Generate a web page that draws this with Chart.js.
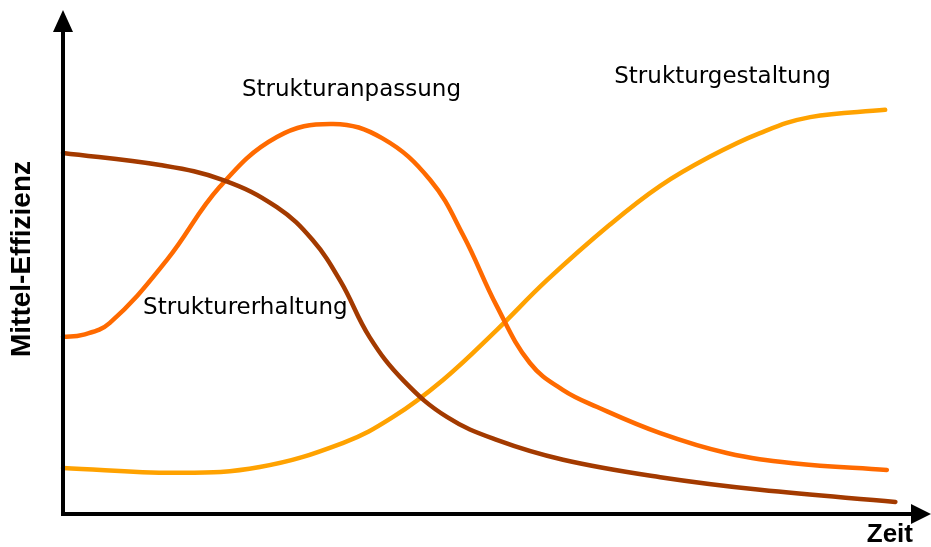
<!DOCTYPE html>
<html>
<head>
<meta charset="utf-8">
<script src="https://cdn.jsdelivr.net/npm/chart.js@4"></script>
<style>
  html, body { margin: 0; padding: 0; background: #fff; }
  #wrap { width: 931px; height: 547px; }
</style>
</head>
<body>
<div id="wrap"><canvas id="chart"></canvas></div>
<script>
// curve points (x: Zeit 0..100, y: Effizienz 0..100)
const erhaltungX = [0, 11.4, 18.8, 25.1, 29.3, 32.6, 36.0, 40.0, 45.1, 50.9, 58.7, 70.1, 81.8, 97.7];
const erhaltungY = [74.6, 72.1, 69.0, 63.4, 56.6, 48.0, 36.5, 27.5, 20.0, 15.3, 11.2, 7.6, 5.0, 2.5];

const anpassungX = [0, 2.3, 5.5, 12.2, 18.4, 25.1, 31.7, 37.5, 43.1, 47.0, 50.9, 54.8, 58.7, 62.7, 70.1, 77.9, 85.7, 96.7];
const anpassungY = [36.6, 37.0, 39.5, 52.5, 67.6, 77.9, 80.6, 77.6, 69.0, 57.5, 43.0, 31.2, 25.6, 22.1, 16.7, 12.6, 10.5, 9.1];

const gestaltungX = [0, 13.4, 23.1, 32.9, 38.7, 44.6, 50.9, 56.8, 64.2, 70.1, 75.9, 81.8, 87.7, 96.5];
const gestaltungY = [9.5, 8.5, 9.7, 14.7, 20.0, 27.7, 38.0, 48.3, 59.8, 67.8, 73.8, 78.7, 82.0, 83.5];

const seriesNames = ['Strukturerhaltung', 'Strukturanpassung', 'Strukturgestaltung'];
const seriesColors = ['#a33a00', '#ff6a00', '#ffa200'];
const axisTitles = ['Zeit', 'Mittel-Effizienz'];

const toPoints = (xs, ys) => xs.map((x, i) => ({ x, y: ys[i] }));

// where each curve name sits (data units, left edge / middle)
const labelSpots = [
  { text: seriesNames[0], x: 9.4, y: 42.6 },
  { text: seriesNames[1], x: 21.0, y: 87.6 },
  { text: seriesNames[2], x: 64.7, y: 90.3 }
];

const axesPlugin = {
  id: 'arrowAxes',
  afterDraw(chart) {
    const { ctx, chartArea: a, scales } = chart;
    ctx.save();
    ctx.strokeStyle = '#000';
    ctx.fillStyle = '#000';
    ctx.lineWidth = 4;
    // y axis
    ctx.beginPath();
    ctx.moveTo(a.left, a.bottom + 2);
    ctx.lineTo(a.left, a.top);
    ctx.stroke();
    ctx.beginPath();
    ctx.moveTo(a.left - 10, a.top + 2);
    ctx.lineTo(a.left + 10, a.top + 2);
    ctx.lineTo(a.left, a.top - 20);
    ctx.closePath();
    ctx.fill();
    // x axis
    ctx.beginPath();
    ctx.moveTo(a.left - 2, a.bottom);
    ctx.lineTo(a.right, a.bottom);
    ctx.stroke();
    ctx.beginPath();
    ctx.moveTo(a.right - 4, a.bottom - 10);
    ctx.lineTo(a.right - 4, a.bottom + 10);
    ctx.lineTo(a.right + 16, a.bottom);
    ctx.closePath();
    ctx.fill();

    // axis titles
    ctx.font = 'bold 26px "Liberation Sans", Arial, sans-serif';
    ctx.textAlign = 'right';
    ctx.textBaseline = 'middle';
    ctx.fillText(axisTitles[0], a.right - 2, a.bottom + 21);
    ctx.save();
    ctx.font = 'bold 28px "Liberation Sans", Arial, sans-serif';
    ctx.translate(22, 259);
    ctx.rotate(-Math.PI / 2);
    ctx.textAlign = 'center';
    ctx.fillText(axisTitles[1], 0, 0);
    ctx.restore();

    // curve names
    ctx.font = '23px "DejaVu Sans", Verdana, sans-serif';
    ctx.textAlign = 'left';
    labelSpots.forEach(l => {
      ctx.fillText(l.text, scales.x.getPixelForValue(l.x), scales.y.getPixelForValue(l.y));
    });
    ctx.restore();
  }
};

new Chart(document.getElementById('chart'), {
  type: 'line',
  data: {
    datasets: [
      { label: seriesNames[0], data: toPoints(erhaltungX, erhaltungY), borderColor: seriesColors[0] },
      { label: seriesNames[1], data: toPoints(anpassungX, anpassungY), borderColor: seriesColors[1] },
      { label: seriesNames[2], data: toPoints(gestaltungX, gestaltungY), borderColor: seriesColors[2] }
    ].map(d => Object.assign(d, {
      borderWidth: 4.5,
      pointRadius: 0,
      fill: false,
      tension: 0.4,
      borderCapStyle: 'round',
      borderJoinStyle: 'round',
      clip: false
    }))
  },
  plugins: [axesPlugin],
  options: {
    responsive: true,
    maintainAspectRatio: false,
    animation: false,
    layout: { padding: { left: 63, right: 16, top: 30, bottom: 33 } },
    scales: {
      x: { type: 'linear', min: 0, max: 100, display: false },
      y: { min: 0, max: 100, display: false }
    },
    plugins: {
      legend: { display: false },
      tooltip: { enabled: false }
    }
  }
});
</script>
</body>
</html>
